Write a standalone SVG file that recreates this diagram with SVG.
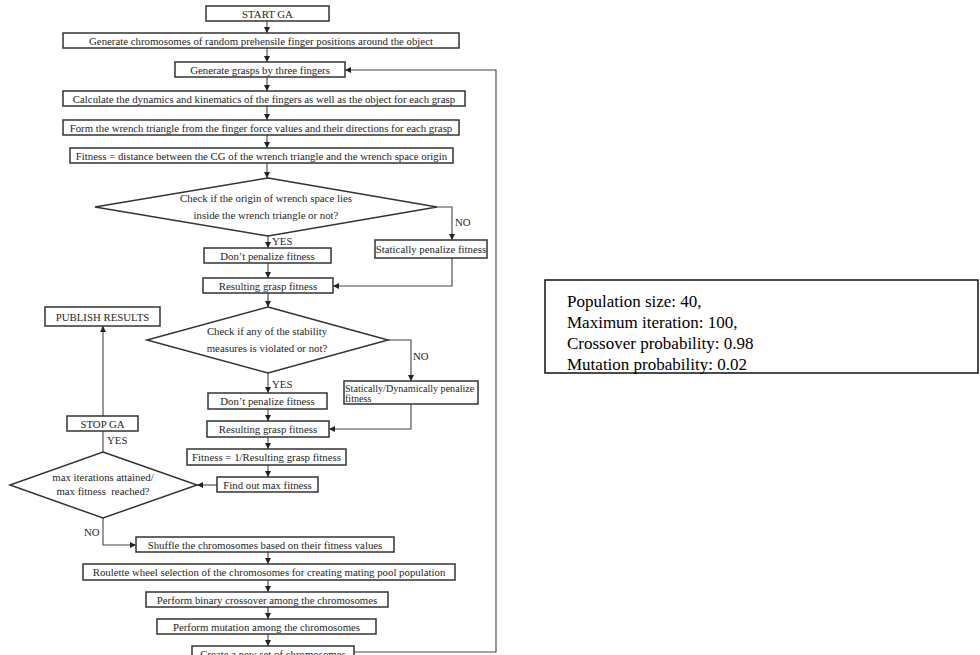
<svg xmlns="http://www.w3.org/2000/svg" width="980" height="655" viewBox="0 0 980 655">
<defs>
<marker id="ah" viewBox="0 0 10 10" refX="10" refY="5" markerWidth="6" markerHeight="6" markerUnits="userSpaceOnUse" orient="auto">
<path d="M0,0 L10,5 L0,10 z" fill="#222"/>
</marker>
<style>
.b{fill:#fff;stroke:#333;stroke-width:1.5}
.t{font-family:"Liberation Serif","Times New Roman",serif;font-size:10.8px;fill:#262626;text-anchor:middle}
.s{font-family:"Liberation Serif","Times New Roman",serif;font-size:10.1px;fill:#262626}
.l{font-family:"Liberation Serif","Times New Roman",serif;font-size:10.8px;fill:#262626}
.c{fill:none;stroke:#444;stroke-width:1.1}
.a{fill:none;stroke:#444;stroke-width:1.1;marker-end:url(#ah)}
.r{font-family:"Liberation Serif","Times New Roman",serif;font-size:17px;fill:#000}
</style>
</defs>
<rect width="980" height="655" fill="#fff"/>
<g id="connectors">
<line class="a" x1="267" y1="21" x2="267" y2="33"/>
<line class="a" x1="267" y1="48" x2="267" y2="62"/>
<line class="a" x1="267" y1="77" x2="267" y2="91"/>
<line class="a" x1="267" y1="106" x2="267" y2="120"/>
<line class="a" x1="267" y1="135" x2="267" y2="148"/>
<line class="a" x1="267" y1="163" x2="267" y2="178"/>
<polyline class="a" points="437,207 452,207 452,240"/>
<line class="a" x1="268" y1="236" x2="268" y2="248"/>
<line class="a" x1="268" y1="263" x2="268" y2="278"/>
<polyline class="a" points="452,258 452,286 333,286"/>
<line class="a" x1="268" y1="293" x2="268" y2="307"/>
<polyline class="a" points="388,340 411,340 411,381"/>
<line class="a" x1="268" y1="373" x2="268" y2="393"/>
<line class="a" x1="268" y1="409" x2="268" y2="421"/>
<polyline class="a" points="411,404 411,429 329,429"/>
<line class="a" x1="268" y1="437" x2="268" y2="449"/>
<line class="a" x1="268" y1="465" x2="268" y2="477"/>
<line class="a" x1="217" y1="485" x2="197" y2="485"/>
<line class="c" x1="103" y1="452" x2="103" y2="431"/>
<line class="a" x1="103" y1="416" x2="103" y2="326"/>
<polyline class="a" points="103,518 103,545 136,545"/>
<line class="a" x1="268" y1="552" x2="268" y2="564"/>
<line class="a" x1="268" y1="580" x2="268" y2="592"/>
<line class="a" x1="268" y1="607" x2="268" y2="619"/>
<line class="a" x1="268" y1="634" x2="268" y2="646"/>
<polyline class="a" points="354,652 496,652 496,70 345,70"/>
<text class="l" x="455" y="226">NO</text>
<text class="l" x="272" y="245">YES</text>
<text class="l" x="413" y="360">NO</text>
<text class="l" x="272" y="388">YES</text>
<text class="l" x="107" y="444">YES</text>
<text class="l" x="84" y="536">NO</text>
</g>
<g id="start"><rect class="b" x="206" y="6" width="123" height="15"/><text class="t" x="267.5" y="17.5" font-size="12">START GA</text></g>
<g id="gen-chrom"><rect class="b" x="63" y="33" width="396" height="15"/><text class="t" x="261" y="44.5">Generate chromosomes of random prehensile finger positions around the object</text></g>
<g id="gen-grasps"><rect class="b" x="175" y="62" width="170" height="15"/><text class="t" x="260" y="73.5">Generate grasps by three fingers</text></g>
<g id="calc"><rect class="b" x="63" y="91" width="402" height="15"/><text class="t" x="264" y="102.5">Calculate the dynamics and kinematics of the fingers as well as the object for each grasp</text></g>
<g id="form"><rect class="b" x="63" y="120" width="396" height="15"/><text class="t" x="261" y="131.5">Form the wrench triangle from the finger force values and their directions for each grasp</text></g>
<g id="fit1"><rect class="b" x="70" y="148" width="383" height="15"/><text class="t" x="261.5" y="159.5">Fitness = distance between the CG of the wrench triangle and the wrench space origin</text></g>
<g id="dec1"><polygon class="b" points="268,178 437,207 268,236 95,207"/><text class="t" x="266" y="202">Check if the origin of wrench space lies</text><text class="t" x="266" y="219">inside the wrench triangle or not?</text></g>
<g id="stat1"><rect class="b" x="375" y="240" width="112" height="18"/><text class="t" x="431" y="252.5">Statically penalize fitness</text></g>
<g id="dont1"><rect class="b" x="204" y="248" width="127" height="15"/><text class="t" x="267.5" y="259.5">Don’t penalize fitness</text></g>
<g id="res1"><rect class="b" x="203" y="278" width="130" height="15"/><text class="t" x="268" y="289.5">Resulting grasp fitness</text></g>
<g id="dec2"><polygon class="b" points="268,307 388,340 268,373 147,340"/><text class="t" x="267" y="335">Check if any of the stability</text><text class="t" x="267" y="352">measures is violated or not?</text></g>
<g id="stat2"><rect class="b" x="344" y="381" width="134" height="23"/><text class="s" x="345" y="391.5">Statically/Dynamically penalize</text><text class="s" x="345" y="401.5">fitness</text></g>
<g id="dont2"><rect class="b" x="208" y="393" width="119" height="16"/><text class="t" x="267.5" y="404.5">Don’t penalize fitness</text></g>
<g id="res2"><rect class="b" x="207" y="421" width="122" height="16"/><text class="t" x="268" y="432.5">Resulting grasp fitness</text></g>
<g id="fit2"><rect class="b" x="187" y="449" width="159" height="16"/><text class="t" x="266.5" y="460.5">Fitness = 1/Resulting grasp fitness</text></g>
<g id="findmax"><rect class="b" x="217" y="477" width="101" height="15"/><text class="t" x="267.5" y="488.5">Find out max fitness</text></g>
<g id="dec3"><polygon class="b" points="103,452 197,485 103,518 10,485"/><text class="t" x="103" y="481" font-size="9.6">max iterations attained/</text><text class="t" x="103" y="495" font-size="9.6" style="white-space:pre">max fitness  reached?</text></g>
<g id="stop"><rect class="b" x="67" y="416" width="71" height="15"/><text class="t" x="102.5" y="427.5" font-size="11.5">STOP GA</text></g>
<g id="publish"><rect class="b" x="45" y="307" width="115" height="19"/><text class="t" x="102.5" y="320.5" font-size="11.5">PUBLISH RESULTS</text></g>
<g id="shuffle"><rect class="b" x="136" y="537" width="258" height="15"/><text class="t" x="265" y="548.5">Shuffle the chromosomes based on their fitness values</text></g>
<g id="roulette"><rect class="b" x="83" y="564" width="372" height="16"/><text class="t" x="269" y="575.5">Roulette wheel selection of the chromosomes for creating mating pool population</text></g>
<g id="crossover"><rect class="b" x="146" y="592" width="242" height="15"/><text class="t" x="267" y="603.5">Perform binary crossover among the chromosomes</text></g>
<g id="mutation"><rect class="b" x="157" y="619" width="219" height="15"/><text class="t" x="266.5" y="630.5">Perform mutation among the chromosomes</text></g>
<g id="create"><rect class="b" x="192" y="646" width="162" height="16"/><text class="t" x="273" y="657.5">Create a new set of chromosomes</text></g>
<g id="params"><rect x="545" y="280" width="433" height="93" fill="#fff" stroke="#111" stroke-width="1.5"/>
<text class="r" x="567" y="307">Population size: 40,</text>
<text class="r" x="567" y="328">Maximum iteration: 100,</text>
<text class="r" x="567" y="349">Crossover probability: 0.98</text>
<text class="r" x="567" y="370">Mutation probability: 0.02</text></g>
</svg>
